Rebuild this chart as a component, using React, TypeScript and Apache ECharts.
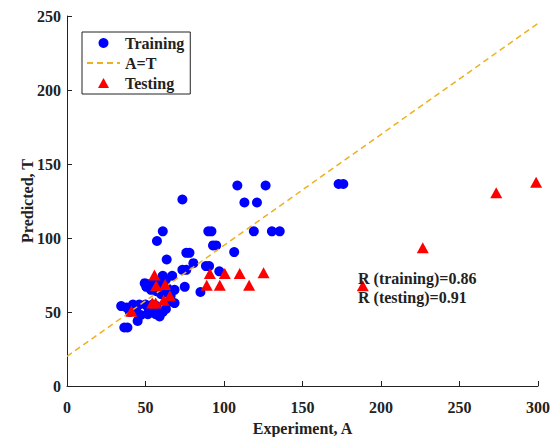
import React, { useEffect, useRef } from "react";
import * as echarts from "echarts";

// Training data: [Experiment A, Predicted T]
const trainingPoints: number[][] = [
  [108.5, 135.5], [126.5, 135.5], [173, 136.5], [176, 136.5], [73.5, 126],
  [113, 124], [121, 124], [61, 104.5], [57.3, 98], [90, 104.5], [92, 104.5],
  [119, 104.5], [130.5, 104.5], [135.5, 104.5], [93, 95], [95, 95], [76, 90],
  [78, 90], [106.5, 90.5], [63.5, 85.5], [80.5, 83], [88.5, 81], [90.5, 81],
  [73.5, 78.5], [76, 78.5], [97, 77.5], [61, 74.5], [67, 74.5], [63, 72],
  [49.5, 69.5], [53, 69], [55, 68], [58, 70], [61, 69], [64, 66], [68.5, 65],
  [75, 67], [85, 63.5], [50.5, 67], [53.5, 65], [57, 64], [60, 62], [62, 63],
  [66, 61], [65, 57], [68.5, 56], [63, 52], [34.5, 54], [42, 55], [46, 55],
  [50, 55], [54.5, 55], [57, 54], [38, 53], [47, 48], [51.5, 48.5],
  [56.5, 48.5], [59, 47], [61, 50], [45, 44], [36.5, 39.5], [38.5, 39.5],
  [40, 50], [44, 52], [52, 52],
];

// Testing data: [Experiment A, Predicted T]
const testingPoints: number[][] = [
  [41, 50.5], [54.3, 56], [56.5, 56], [55.7, 75], [56.8, 67.7], [62.5, 68.6],
  [61.5, 58], [65.5, 61], [89, 68], [91, 76], [97.3, 68], [100.5, 76],
  [110, 76], [116, 68], [125.2, 76.5], [188.4, 67.7], [226.6, 93.4],
  [273.4, 130.5], [298.8, 137.7],
];

// Reference line A=T
const refLine: number[][] = [
  [0, 20],
  [300, 245],
];

const annotations: string[] = ["R (training)=0.86", "R (testing)=0.91"];

const FONT = "Liberation Serif";

export default function App() {
  const ref = useRef<HTMLDivElement>(null);

  useEffect(() => {
    if (!ref.current) return;
    const chart = echarts.init(ref.current, undefined, { renderer: "svg" });
    const textStyle = {
      fontFamily: FONT,
      fontWeight: "bold",
      fontSize: 16,
      color: "#222",
    };
    chart.setOption({
      animation: false,
      backgroundColor: "#fff",
      textStyle: { fontFamily: FONT },
      grid: {
        left: 67,
        right: 20,
        top: 16,
        bottom: 51,
        containLabel: false,
        outerBoundsMode: "none",
      },
      legend: {
        orient: "vertical",
        left: 82,
        top: 32,
        borderColor: "#222",
        borderWidth: 1,
        borderRadius: 0,
        padding: [3, 6, 3, 4],
        itemGap: 4,
        itemWidth: 33,
        itemHeight: 10,
        symbolKeepAspect: true,
        textStyle: { ...textStyle },
        data: [
          { name: "Training", icon: "circle" },
          { name: "A=T", itemStyle: { opacity: 0 } },
          { name: "Testing", icon: "path://M5.5,0L11,10L0,10Z" },
        ],
      },
      xAxis: {
        type: "value",
        min: 0,
        max: 300,
        interval: 50,
        name: "Experiment, A",
        nameLocation: "middle",
        nameGap: 34,
        nameMoveOverlap: false,
        nameTextStyle: textStyle,
        axisLine: { show: true, onZero: false, lineStyle: { color: "#222", width: 1 } },
        axisTick: { show: true, inside: true, length: 5, lineStyle: { color: "#222" } },
        axisLabel: { ...textStyle, margin: 13 },
        splitLine: { show: false },
      },
      yAxis: {
        type: "value",
        min: 0,
        max: 250,
        interval: 50,
        name: "Predicted, T",
        nameLocation: "middle",
        nameGap: 32,
        nameMoveOverlap: false,
        nameTextStyle: textStyle,
        axisLine: { show: true, onZero: false, lineStyle: { color: "#222", width: 1 } },
        axisTick: { show: true, inside: true, length: 5, lineStyle: { color: "#222" } },
        axisLabel: { ...textStyle, margin: 6 },
        splitLine: { show: false },
      },
      graphic: annotations.map((t, i) => ({
        type: "text",
        x: 358,
        y: 278 + i * 19,
        style: {
          text: t,
          fontFamily: FONT,
          fontWeight: "bold",
          fontSize: 16,
          fill: "#222",
          verticalAlign: "middle",
        },
        z: 100,
      })),
      series: [
        {
          name: "Training",
          type: "scatter",
          data: trainingPoints,
          symbol: "circle",
          symbolSize: 10,
          itemStyle: { color: "#0000FF", opacity: 1 },
          z: 2,
        },
        {
          name: "A=T",
          type: "line",
          data: refLine,
          symbol: "none",
          lineStyle: { color: "#EDB120", width: 1.5, type: [6, 4] },
          itemStyle: { color: "#EDB120" },
          z: 3,
        },
        {
          name: "Testing",
          type: "scatter",
          data: testingPoints,
          symbol: "triangle",
          symbolSize: [12, 11],
          itemStyle: { color: "#FF0000", opacity: 1 },
          z: 4,
        },
      ],
    });
    return () => chart.dispose();
  }, []);

  return (
    <div
      ref={ref}
      style={{ position: "fixed", left: 0, top: 0, width: 558, height: 437 }}
    />
  );
}
